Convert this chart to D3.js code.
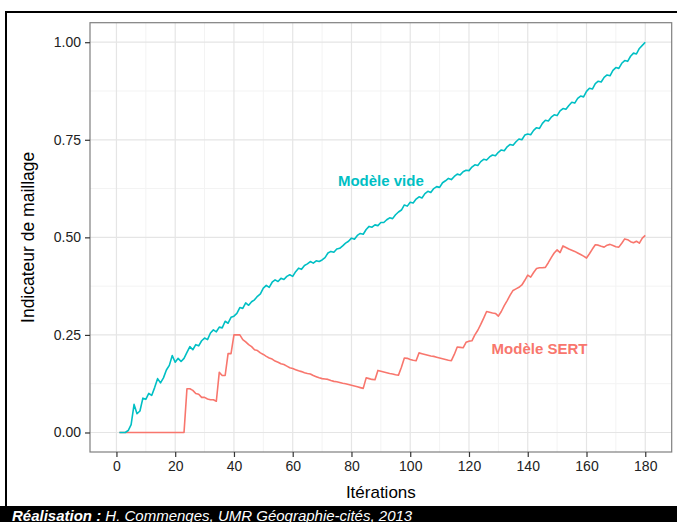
<!DOCTYPE html>
<html><head><meta charset="utf-8">
<script src="https://cdn.jsdelivr.net/npm/d3@7/dist/d3.min.js"></script>
<style>
body{margin:0;background:#fff}
svg{display:block}
text{font-family:"Liberation Sans",Arial,Helvetica,sans-serif}
</style>
</head><body>
<svg id="chart" width="677" height="522"></svg>
<script>
const iterations = d3.range(1, 181);

const videValues = [
0,0,0,0.005,0.02,0.072,0.048,0.055,0.088,0.085,
0.1,0.095,0.115,0.138,0.127,0.14,0.16,0.172,0.197,0.18,
0.19,0.182,0.19,0.205,0.22,0.212,0.225,0.222,0.235,0.242,
0.238,0.255,0.263,0.258,0.27,0.268,0.285,0.28,0.295,0.298,
0.305,0.32,0.318,0.332,0.326,0.335,0.34,0.349,0.355,0.37,
0.377,0.372,0.385,0.391,0.387,0.395,0.392,0.4,0.404,0.4,
0.412,0.421,0.418,0.428,0.432,0.438,0.434,0.44,0.438,0.442,
0.448,0.46,0.464,0.462,0.47,0.472,0.478,0.485,0.49,0.498,
0.495,0.505,0.51,0.508,0.52,0.528,0.526,0.532,0.53,0.538,
0.538,0.545,0.55,0.548,0.558,0.565,0.57,0.583,0.58,0.59,
0.588,0.598,0.604,0.601,0.612,0.618,0.615,0.625,0.63,0.628,
0.64,0.645,0.651,0.648,0.656,0.662,0.66,0.668,0.672,0.671,
0.68,0.686,0.684,0.694,0.7,0.698,0.706,0.711,0.709,0.718,
0.724,0.722,0.732,0.738,0.736,0.745,0.752,0.75,0.762,0.765,
0.763,0.774,0.781,0.779,0.792,0.8,0.798,0.808,0.814,0.812,
0.824,0.83,0.828,0.838,0.846,0.844,0.856,0.862,0.86,0.874,
0.882,0.88,0.894,0.9,0.898,0.91,0.916,0.914,0.928,0.935,
0.933,0.946,0.953,0.951,0.964,0.972,0.97,0.984,0.992,1.0
];

const sertValues = [
0,0,0,0,0,0,0,0,0,0,
0,0,0,0,0,0,0,0,0,0,
0,0,0,0.112,0.112,0.108,0.1,0.098,0.09,0.09,
0.086,0.084,0.084,0.08,0.154,0.146,0.146,0.202,0.202,0.25,
0.25,0.25,0.238,0.232,0.225,0.22,0.212,0.21,0.204,0.2,
0.195,0.191,0.188,0.183,0.18,0.176,0.174,0.17,0.166,0.164,
0.161,0.158,0.156,0.153,0.151,0.15,0.146,0.143,0.14,0.138,
0.137,0.136,0.133,0.131,0.13,0.128,0.126,0.125,0.123,0.121,
0.119,0.117,0.115,0.113,0.14,0.138,0.136,0.135,0.159,0.157,
0.155,0.153,0.151,0.15,0.148,0.147,0.167,0.191,0.19,0.187,
0.185,0.184,0.204,0.202,0.2,0.198,0.196,0.195,0.193,0.191,
0.189,0.187,0.185,0.184,0.2,0.219,0.218,0.217,0.231,0.234,
0.235,0.25,0.262,0.277,0.293,0.31,0.308,0.306,0.305,0.298,
0.31,0.325,0.338,0.352,0.364,0.368,0.372,0.378,0.39,0.403,
0.398,0.41,0.42,0.422,0.422,0.423,0.435,0.448,0.46,0.468,
0.461,0.478,0.474,0.47,0.467,0.464,0.46,0.456,0.452,0.447,
0.458,0.47,0.481,0.48,0.477,0.475,0.48,0.482,0.479,0.476,
0.475,0.485,0.496,0.494,0.489,0.486,0.49,0.485,0.498,0.505
];

const xTicks = [0,20,40,60,80,100,120,140,160,180];
const xMinor = [10,30,50,70,90,110,130,150,170];
const yTicks = [0,0.25,0.5,0.75,1.0];
const yMinor = [0.125,0.375,0.625,0.875];
const seriesNames = ["Modèle SERT","Modèle vide"];
const seriesColors = ["#F8766D","#00BFC4"];
const labelX = [144, 90];
const labelY = [0.215, 0.645];
const xTitle = "Itérations";
const yTitle = "Indicateur de maillage";
const captionBold = "Réalisation :";
const captionRest = " H. Commenges, UMR Géographie-cités, 2013";

const svg = d3.select("#chart");
const W = 677, H = 522;
const panel = {left: 90, right: 671.7, top: 22.7, bottom: 452};

// outer frame
svg.append("rect").attr("x",6).attr("y",12).attr("width",720).attr("height",560)
  .attr("fill","none").attr("stroke","#000").attr("stroke-width",2);

const x = d3.scaleLinear().domain([-9, 189]).range([panel.left, panel.right]);
const y = d3.scaleLinear().domain([-0.05, 1.05]).range([panel.bottom, panel.top]);

const g = svg.append("g");
// minor grid
g.selectAll(".vminor").data(xMinor).join("line").attr("class","vminor")
  .attr("x1",d=>x(d)).attr("x2",d=>x(d)).attr("y1",panel.top).attr("y2",panel.bottom)
  .attr("stroke","#f3f3f3").attr("stroke-width",1);
g.selectAll(".hminor").data(yMinor).join("line").attr("class","hminor")
  .attr("y1",d=>y(d)).attr("y2",d=>y(d)).attr("x1",panel.left).attr("x2",panel.right)
  .attr("stroke","#f3f3f3").attr("stroke-width",1);
// major grid
g.selectAll(".vmajor").data(xTicks).join("line").attr("class","vmajor")
  .attr("x1",d=>x(d)).attr("x2",d=>x(d)).attr("y1",panel.top).attr("y2",panel.bottom)
  .attr("stroke","#e5e5e5").attr("stroke-width",1.2);
g.selectAll(".hmajor").data(yTicks).join("line").attr("class","hmajor")
  .attr("y1",d=>y(d)).attr("y2",d=>y(d)).attr("x1",panel.left).attr("x2",panel.right)
  .attr("stroke","#e5e5e5").attr("stroke-width",1.2);

// lines
const seriesData = [sertValues, videValues];
const line = d3.line().x((d,i)=>x(iterations[i])).y(d=>y(d));
seriesData.forEach((vals, k) => {
  g.append("path").datum(vals).attr("d", line)
    .attr("fill","none").attr("stroke",seriesColors[k]).attr("stroke-width",1.6)
    .attr("stroke-linejoin","round");
});

// labels
seriesNames.forEach((name,k)=>{
  g.append("text").attr("x",x(labelX[k])).attr("y",y(labelY[k]))
    .attr("text-anchor","middle").attr("dominant-baseline","central")
    .attr("font-size",15).attr("font-weight","bold").attr("fill",seriesColors[k])
    .text(name);
});

// panel border
svg.append("rect").attr("x",panel.left).attr("y",panel.top)
  .attr("width",panel.right-panel.left).attr("height",panel.bottom-panel.top)
  .attr("fill","none").attr("stroke","#7f7f7f").attr("stroke-width",1.2);

// axes
const xAxis = d3.axisBottom(x).tickValues(xTicks).tickSize(5).tickPadding(4).tickFormat(d3.format("d"));
const gx = svg.append("g").attr("transform",`translate(0,${panel.bottom})`).call(xAxis);
gx.select(".domain").remove();
gx.selectAll(".tick line").attr("stroke","#333").attr("stroke-width",1.2);
gx.selectAll(".tick text").attr("font-size",14).attr("fill","#222")
  .attr("font-family","'Liberation Sans',Arial,sans-serif");

const yAxis = d3.axisLeft(y).tickValues(yTicks).tickSize(5).tickPadding(4).tickFormat(d3.format(".2f"));
const gy = svg.append("g").attr("transform",`translate(${panel.left},0)`).call(yAxis);
gy.select(".domain").remove();
gy.selectAll(".tick line").attr("stroke","#333").attr("stroke-width",1.2);
gy.selectAll(".tick text").attr("font-size",14).attr("fill","#222")
  .attr("font-family","'Liberation Sans',Arial,sans-serif");

// axis titles
svg.append("text").attr("x",(x(0)+x(180))/2).attr("y",498)
  .attr("text-anchor","middle").attr("font-size",17).attr("fill","#000").text(xTitle);
svg.append("text").attr("transform",`translate(34,${(y(0)+y(1))/2}) rotate(-90)`)
  .attr("text-anchor","middle").attr("font-size",17.5).attr("fill","#000").text(yTitle);

// caption bar
svg.append("rect").attr("x",0).attr("y",506).attr("width",W).attr("height",H-506).attr("fill","#000");
const cap = svg.append("text").attr("x",12).attr("y",520.5).attr("font-size",15)
  .attr("font-style","italic").attr("fill","#fff");
cap.append("tspan").attr("font-weight","bold").text(captionBold);
cap.append("tspan").text(captionRest);
</script>
</body></html>
